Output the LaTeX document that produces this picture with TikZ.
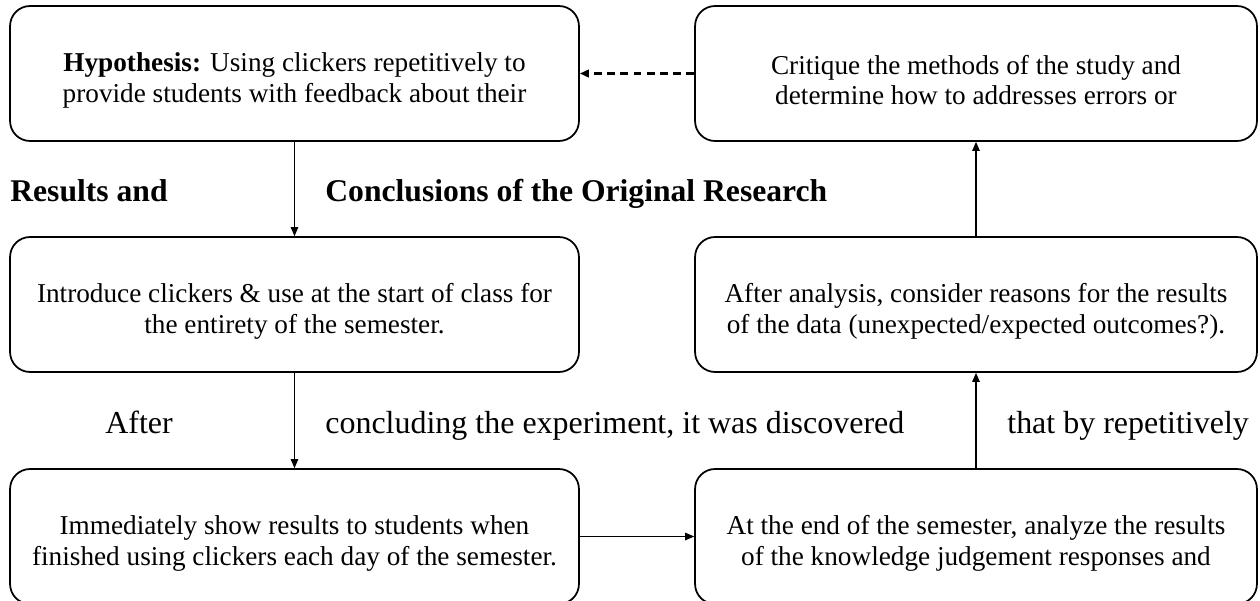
\documentclass[tikz,border=0pt]{standalone}
\usepackage{fontspec}
\setmainfont{Liberation Serif}
\usetikzlibrary{arrows.meta}

\begin{document}
\begin{tikzpicture}[x=0.02cm,y=-0.02cm]
      \useasboundingbox (0,0) rectangle (1260,601);

      \begin{scope}[every node/.style={draw,line width=1pt,rounded corners=0.4cm,
          minimum height=2.7cm,align=center,inner sep=0pt,text height=3.6em,
          font=\fontsize{15.5}{17.6}\selectfont}]
        \node[minimum width=11.38cm] (hyp)    at (294.5,73.5)  {\textbf{Hypothesis:} Using clickers repetitively to\\provide students with feedback about their};
        \node[minimum width=11.24cm] (crit)   at (976,73.5)    {Critique the methods of the study and\\determine how to addresses errors or};
        \node[minimum width=11.38cm] (intro)  at (294.5,304.5) {Introduce clickers \& use at the start of class for\\the entirety of the semester.};
        \node[minimum width=11.24cm] (reason) at (976,304.5)   {After analysis, consider reasons for the results\\of the data (unexpected/expected outcomes?).};
        \node[minimum width=11.38cm] (show)   at (294.5,536.5) {Immediately show results to students when\\finished using clickers each day of the semester.};
        \node[minimum width=11.24cm] (anal)   at (976,536.5)   {At the end of the semester, analyze the results\\of the knowledge judgement responses and};
      \end{scope}

      \begin{scope}[every node/.style={anchor=base west,inner sep=0pt}]
        \node[font=\fontsize{18}{21}\selectfont\bfseries] (res)  at (10,201)   {Results and};
        \node[font=\fontsize{18}{21}\selectfont\bfseries] (conc) at (325,201)  {Conclusions of the Original Research};
        \node[font=\fontsize{18.2}{21}\selectfont] (after) at (105,433)  {After};
        \node[font=\fontsize{18.2}{21}\selectfont] (disc)  at (325,433)  {concluding the experiment, it was discovered};
        \node[font=\fontsize{18.2}{21}\selectfont] (rep)   at (1007,433) {that by repetitively};
      \end{scope}

      \begin{scope}[every edge/.style={draw,line width=0.6pt,-{Triangle[length=1.8mm,width=1.5mm]}}]
        \path (hyp)  edge (intro);
        \path (intro) edge (show);
        \path (show) edge (anal);
        \path (anal) edge (reason);
        \path (reason) edge (crit);
        \path (crit) edge[line width=1.3pt,dash pattern=on 4.5pt off 3pt] (hyp);
      \end{scope}

    \end{tikzpicture}
\end{document}
